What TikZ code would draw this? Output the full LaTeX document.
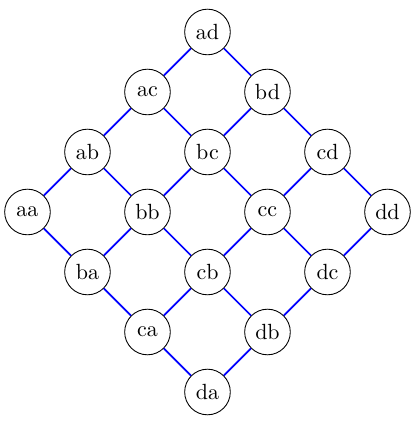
\documentclass[tikz,border=0pt]{standalone}
\usepackage{tikz}
\usetikzlibrary{positioning}
\tikzset{
  vtx/.style={circle,draw=black,fill=white,minimum size=7.3mm,inner sep=1pt,
              font=\normalsize},
  lnk/.style={draw=blue,thick},
}
\begin{document}
\begin{tikzpicture}[x=0.96cm,y=0.96cm]
  \useasboundingbox (-0.458,-3.5) rectangle (6.442,3.533);

  % vertices of the rotated grid
  \foreach \i/\a in {0/a,1/b,2/c,3/d} {
    \foreach \j/\b in {0/a,1/b,2/c,3/d} {
      \node[vtx] (\a\b) at ({\i+\j},{\j-\i}) {\a\b};
    }
  }

  % links between neighbours
  \foreach \a/\n in {a/b,b/c,c/d} {
    \foreach \b in {a,b,c,d} {
      \draw[lnk] (\a\b) -- (\n\b);
      \draw[lnk] (\b\a) -- (\b\n);
    }
  }
\end{tikzpicture}
\end{document}
